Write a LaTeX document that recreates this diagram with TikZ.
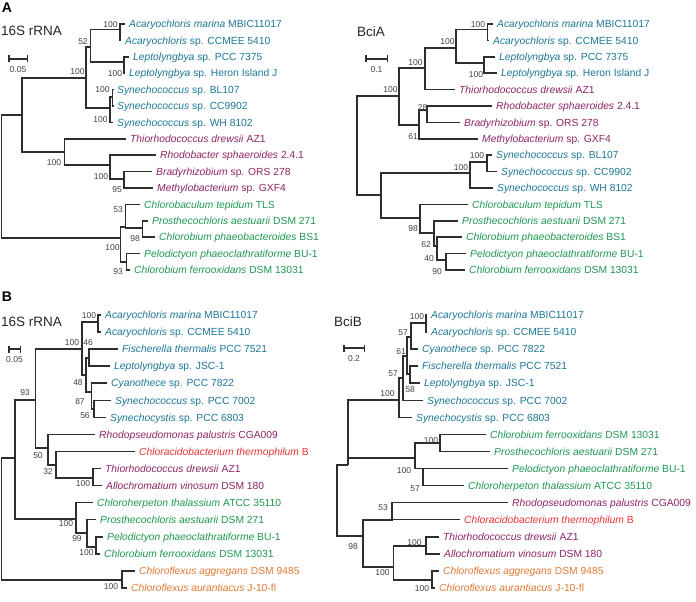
\documentclass[tikz,border=0pt]{standalone}
\usepackage{fontspec}
\setmainfont{Liberation Sans}
\usepackage{xcolor}
\usetikzlibrary{arrows.meta,positioning}
\definecolor{cyano}{RGB}{28,118,150}
\definecolor{purp}{RGB}{140,35,100}
\definecolor{gsb}{RGB}{30,150,80}
\definecolor{acido}{RGB}{230,50,50}
\definecolor{flexus}{RGB}{225,120,50}

\begin{document}
\begin{tikzpicture}[x=1pt,y=-1pt,
    br/.style={draw=black!82,line width=1.5pt},
    tip/.style={anchor=west,inner xsep=4pt,inner ysep=0pt,text height=7.4pt,text depth=0pt,font=\fontsize{10.3}{12}\selectfont},
    bs/.style={inner sep=0pt,text=black!75,font=\fontsize{8.5}{10}\selectfont},
    ttl/.style={anchor=west,inner sep=0pt,text=black!85,font=\fontsize{13.5}{16}\selectfont},
    pnl/.style={inner sep=0pt,font=\fontsize{14}{16}\selectfont\bfseries}]
  \useasboundingbox (0,0) rectangle (696,602);

  \node[pnl] (pA) at (7,8) {A};
  \node[pnl] (pB) at (7,297) {B};
  \node[ttl] (tA1) at (1,31) {16S rRNA};
  \node[ttl] (tA2) at (357,32) {BciA};
  \node[ttl] (tB1) at (1,322) {16S rRNA};
  \node[ttl] (tB2) at (334,322) {BciB};

  % scale bars
  \coordinate (sbA1) at (8,59);   \coordinate (sbA2) at (28,59);
  \coordinate (sbC1) at (365,59); \coordinate (sbC2) at (388,59);
  \coordinate (sbB1) at (8,349);  \coordinate (sbB2) at (21,349);
  \coordinate (sbD1) at (343,348); \coordinate (sbD2) at (365,348);
  \draw[br,{Bar[width=7pt]}-{Bar[width=7pt]}] (sbA1) -- coordinate (sbAm) (sbA2);
  \draw[br,{Bar[width=7pt]}-{Bar[width=7pt]}] (sbC1) -- coordinate (sbCm) (sbC2);
  \draw[br,{Bar[width=7pt]}-{Bar[width=7pt]}] (sbB1) -- coordinate (sbBm) (sbB2);
  \draw[br,{Bar[width=7pt]}-{Bar[width=7pt]}] (sbD1) -- coordinate (sbDm) (sbD2);
  \node[bs,below=7pt of sbAm] (sbAt) {0.05};
  \node[bs,below=7pt of sbCm] (sbCt) {0.1};
  \node[bs,below=7pt of sbBm] (sbBt) {0.05};
  \node[bs,below=7pt of sbDm] (sbDt) {0.2};

  % A, 16S rRNA
  \coordinate (aLroot) at (1.5,176);
  \coordinate (aLtop) at (22,115);
  \coordinate (aLcy) at (86,78);
  \coordinate (aLn52) at (90.5,47);
  \coordinate (aLaca) at (120,29.5);
  \coordinate (aLlep) at (124,62);
  \coordinate (aLsyn) at (110,108);
  \coordinate (aLsyn1) at (112.5,97);
  \coordinate (aLpu) at (64.5,152);
  \coordinate (aLrh) at (110,165);
  \coordinate (aLn95) at (124,179);
  \coordinate (aLgr) at (120.5,238);
  \coordinate (aLn53) at (125.5,227);
  \coordinate (aLn98) at (142.5,228);
  \coordinate (aLn93) at (126.5,262);
  \node[tip,text=cyano] (aL1) at (125,24) {\textit{Acaryochloris marina} MBIC11017};
  \node[tip,text=cyano] (aL2) at (121,40.4) {\textit{Acaryochloris} sp. CCMEE 5410};
  \node[tip,text=cyano] (aL3) at (129,56.8) {\textit{Leptolyngbya} sp. PCC 7375};
  \node[tip,text=cyano] (aL4) at (125,73.2) {\textit{Leptolyngbya} sp. Heron Island J};
  \node[tip,text=cyano] (aL5) at (113,89.6) {\textit{Synechococcus} sp. BL107};
  \node[tip,text=cyano] (aL6) at (113,106) {\textit{Synechococcus} sp. CC9902};
  \node[tip,text=cyano] (aL7) at (113,122.4) {\textit{Synechococcus} sp. WH 8102};
  \node[tip,text=purp] (aL8) at (126,138.8) {\textit{Thiorhodococcus drewsii} AZ1};
  \node[tip,text=purp] (aL9) at (156,155.2) {\textit{Rhodobacter sphaeroides} 2.4.1};
  \node[tip,text=purp] (aL10) at (152,171.6) {\textit{Bradyrhizobium} sp. ORS 278};
  \node[tip,text=purp] (aL11) at (153,188) {\textit{Methylobacterium} sp. GXF4};
  \node[tip,text=gsb] (aL12) at (140,204.4) {\textit{Chlorobaculum tepidum} TLS};
  \node[tip,text=gsb] (aL13) at (148,220.8) {\textit{Prosthecochloris aestuarii} DSM 271};
  \node[tip,text=gsb] (aL14) at (155,237.2) {\textit{Chlorobium phaeobacteroides} BS1};
  \node[tip,text=gsb] (aL15) at (140,253.6) {\textit{Pelodictyon phaeoclathratiforme} BU-1};
  \node[tip,text=gsb] (aL16) at (130,270) {\textit{Chlorobium ferrooxidans} DSM 13031};
  \foreach \p/\c in {aLroot/aLtop,aLroot/aLgr,aLtop/aLcy,aLtop/aLpu,aLcy/aLn52,aLcy/aLsyn,
      aLn52/aLaca,aLn52/aLlep,aLaca/aL1,aLaca/aL2,aLlep/aL3,aLlep/aL4,aLsyn/aLsyn1,aLsyn/aL7,
      aLsyn1/aL5,aLsyn1/aL6,aLpu/aL8,aLpu/aLrh,aLrh/aL9,aLrh/aLn95,aLn95/aL10,aLn95/aL11,
      aLgr/aLn53,aLgr/aLn93,aLn53/aL12,aLn53/aLn98,aLn98/aL13,aLn98/aL14,aLn93/aL15,aLn93/aL16}
    \draw[br] (\p) |- (\c);
  \foreach \x/\y/\t [count=\i] in {110.5/25/100,83/42/52,77.5/72/100,115/74/100,102.5/90/100,
      100.5/120/100,54/163/100,101/177/100,117/190/95,118/210/53,135/239/98,112.5/248/100,118/272/93}
    \node[bs] (aLs\i) at (\x,\y) {\t};

  % A, BciA
  \coordinate (aRroot) at (357,145);
  \coordinate (aRup) at (399,96);
  \coordinate (aRn100b) at (425,68);
  \coordinate (aRn100a) at (456,48);
  \coordinate (aRaca) at (487.5,29.5);
  \coordinate (aRlep) at (484,63);
  \coordinate (aRn61) at (419,125);
  \coordinate (aRn28) at (427,110);
  \coordinate (aRlo) at (381,195);
  \coordinate (aRsyn) at (470,173);
  \coordinate (aRsyn1) at (487,162);
  \coordinate (aRn98) at (420,218);
  \coordinate (aRn62) at (434,233);
  \coordinate (aRn40) at (437,246);
  \coordinate (aRn90) at (446,260);
  \node[tip,text=cyano] (aR1) at (493,24) {\textit{Acaryochloris marina} MBIC11017};
  \node[tip,text=cyano] (aR2) at (489,40.4) {\textit{Acaryochloris} sp. CCMEE 5410};
  \node[tip,text=cyano] (aR3) at (495,56.8) {\textit{Leptolyngbya} sp. PCC 7375};
  \node[tip,text=cyano] (aR4) at (497,73.2) {\textit{Leptolyngbya} sp. Heron Island J};
  \node[tip,text=purp] (aR5) at (455,89.6) {\textit{Thiorhodococcus drewsii} AZ1};
  \node[tip,text=purp] (aR6) at (492,106) {\textit{Rhodobacter sphaeroides} 2.4.1};
  \node[tip,text=purp] (aR7) at (460,122.4) {\textit{Bradyrhizobium} sp. ORS 278};
  \node[tip,text=purp] (aR8) at (478,138.8) {\textit{Methylobacterium} sp. GXF4};
  \node[tip,text=cyano] (aR9) at (492,155.2) {\textit{Synechococcus} sp. BL107};
  \node[tip,text=cyano] (aR10) at (497,171.6) {\textit{Synechococcus} sp. CC9902};
  \node[tip,text=cyano] (aR11) at (493,188) {\textit{Synechococcus} sp. WH 8102};
  \node[tip,text=gsb] (aR12) at (468,204.4) {\textit{Chlorobaculum tepidum} TLS};
  \node[tip,text=gsb] (aR13) at (458,220.8) {\textit{Prosthecochloris aestuarii} DSM 271};
  \node[tip,text=gsb] (aR14) at (462,237.2) {\textit{Chlorobium phaeobacteroides} BS1};
  \node[tip,text=gsb] (aR15) at (466,253.6) {\textit{Pelodictyon phaeoclathratiforme} BU-1};
  \node[tip,text=gsb] (aR16) at (465,270) {\textit{Chlorobium ferrooxidans} DSM 13031};
  \foreach \p/\c in {aRroot/aRup,aRroot/aRlo,aRup/aRn100b,aRup/aRn61,aRn100b/aRn100a,aRn100b/aR5,
      aRn100a/aRaca,aRn100a/aRlep,aRaca/aR1,aRaca/aR2,aRlep/aR3,aRlep/aR4,aRn61/aRn28,aRn61/aR8,
      aRn28/aR6,aRn28/aR7,aRlo/aRsyn,aRlo/aRn98,aRsyn/aRsyn1,aRsyn/aR11,aRsyn1/aR9,aRsyn1/aR10,
      aRn98/aR12,aRn98/aRn62,aRn62/aR13,aRn62/aRn40,aRn40/aR14,aRn40/aRn90,aRn90/aR15,aRn90/aR16}
    \draw[br] (\p) |- (\c);
  \foreach \x/\y/\t [count=\i] in {478/25/100,447.5/42/100,476/75/100,415.5/63/100,390.5/90/100,
      422.5/108/28,413/137/61,477/156/100,461/168/100,413/229/98,426/245/62,429/259/40,437/272/90}
    \node[bs] (aRs\i) at (\x,\y) {\t};

  % B, 16S rRNA
  \coordinate (bLroot) at (1.5,519);
  \coordinate (bLtop) at (15,458);
  \coordinate (bLn93) at (35.5,400);
  \coordinate (bLcy) at (82,349);
  \coordinate (bLaca) at (98,322);
  \coordinate (bLn48) at (86,375);
  \coordinate (bLn46) at (89,358);
  \coordinate (bLn87) at (91.5,392);
  \coordinate (bLn56) at (94,409);
  \coordinate (bLn50) at (48,448);
  \coordinate (bLn32) at (56,465);
  \coordinate (bLth) at (93,478);
  \coordinate (bLgr) at (76,519);
  \coordinate (bLn99) at (87,533);
  \coordinate (bLgf) at (96,547);
  \coordinate (bLfl) at (122,580);
  \node[tip,text=cyano] (bL1) at (101,315) {\textit{Acaryochloris marina} MBIC11017};
  \node[tip,text=cyano] (bL2) at (101,332.1) {\textit{Acaryochloris} sp. CCMEE 5410};
  \node[tip,text=cyano] (bL3) at (118,349.1) {\textit{Fischerella thermalis} PCC 7521};
  \node[tip,text=cyano] (bL4) at (110,366.2) {\textit{Leptolyngbya} sp. JSC-1};
  \node[tip,text=cyano] (bL5) at (107,383.2) {\textit{Cyanothece} sp. PCC 7822};
  \node[tip,text=cyano] (bL6) at (111,400.3) {\textit{Synechococcus} sp. PCC 7002};
  \node[tip,text=cyano] (bL7) at (106,417.4) {\textit{Synechocystis} sp. PCC 6803};
  \node[tip,text=purp] (bL8) at (95,434.4) {\textit{Rhodopseudomonas palustris} CGA009};
  \node[tip,text=acido] (bL9) at (135,451.5) {\textit{Chloracidobacterium thermophilum} B};
  \node[tip,text=purp] (bL10) at (101,468.5) {\textit{Thiorhodococcus drewsii} AZ1};
  \node[tip,text=purp] (bL11) at (102,485.6) {\textit{Allochromatium vinosum} DSM 180};
  \node[tip,text=gsb] (bL12) at (93,502.7) {\textit{Chloroherpeton thalassium} ATCC 35110};
  \node[tip,text=gsb] (bL13) at (96,519.7) {\textit{Prosthecochloris aestuarii} DSM 271};
  \node[tip,text=gsb] (bL14) at (103,536.8) {\textit{Pelodictyon phaeoclathratiforme} BU-1};
  \node[tip,text=gsb] (bL15) at (100,553.8) {\textit{Chlorobium ferrooxidans} DSM 13031};
  \node[tip,text=flexus] (bL16) at (135,570.9) {\textit{Chloroflexus aggregans} DSM 9485};
  \node[tip,text=flexus] (bL17) at (127,588) {\textit{Chloroflexus aurantiacus} J-10-fl};
  \foreach \p/\c in {bLroot/bLtop,bLroot/bLfl,bLtop/bLn93,bLtop/bLgr,bLn93/bLcy,bLn93/bLn50,
      bLcy/bLaca,bLcy/bLn48,bLaca/bL1,bLaca/bL2,bLn48/bLn46,bLn48/bLn87,bLn46/bL3,bLn46/bL4,
      bLn87/bL5,bLn87/bLn56,bLn56/bL6,bLn56/bL7,bLn50/bL8,bLn50/bLn32,bLn32/bL9,bLn32/bLth,
      bLth/bL10,bLth/bL11,bLgr/bL12,bLgr/bLn99,bLn99/bL13,bLn99/bLgf,bLgf/bL14,bLgf/bL15,
      bLfl/bL16,bLfl/bL17}
    \draw[br] (\p) |- (\c);
  \foreach \x/\y/\t [count=\i] in {89/316/100,72/343/100,88/343/46,78/383/48,80/402/87,85/416/56,
      25/393/93,38/456/50,48/472/32,83/484/100,66/524/100,77/539/99,86.5/553/100,111/587/100}
    \node[bs] (bLs\i) at (\x,\y) {\t};

  % B, BciB
  \coordinate (bRroot) at (337,500);
  \coordinate (bRtop) at (348,465);
  \coordinate (bRcy) at (399,400);
  \coordinate (bRn57b) at (403,378);
  \coordinate (bRn61) at (407,356);
  \coordinate (bRn57a) at (411,337);
  \coordinate (bRaca) at (426,323);
  \coordinate (bRn58) at (410,374);
  \coordinate (bRgr) at (415,458);
  \coordinate (bRgf) at (440,443);
  \coordinate (bRn57) at (423,468.5);
  \coordinate (bRn98) at (363,536);
  \coordinate (bRn53) at (392,520);
  \coordinate (bRlo) at (393.5,567);
  \coordinate (bRth) at (426,546);
  \coordinate (bRfl) at (432,580);
  \node[tip,text=cyano] (bR1) at (427,315) {\textit{Acaryochloris marina} MBIC11017};
  \node[tip,text=cyano] (bR2) at (427,332.1) {\textit{Acaryochloris} sp. CCMEE 5410};
  \node[tip,text=cyano] (bR3) at (418,349.1) {\textit{Cyanothece} sp. PCC 7822};
  \node[tip,text=cyano] (bR4) at (418,366.2) {\textit{Fischerella thermalis} PCC 7521};
  \node[tip,text=cyano] (bR5) at (420,383.2) {\textit{Leptolyngbya} sp. JSC-1};
  \node[tip,text=cyano] (bR6) at (423,400.3) {\textit{Synechococcus} sp. PCC 7002};
  \node[tip,text=cyano] (bR7) at (412,417.4) {\textit{Synechocystis} sp. PCC 6803};
  \node[tip,text=gsb] (bR8) at (486,434.4) {\textit{Chlorobium ferrooxidans} DSM 13031};
  \node[tip,text=gsb] (bR9) at (490,451.5) {\textit{Prosthecochloris aestuarii} DSM 271};
  \node[tip,text=gsb] (bR10) at (508,468.5) {\textit{Pelodictyon phaeoclathratiforme} BU-1};
  \node[tip,text=gsb] (bR11) at (464,485.6) {\textit{Chloroherpeton thalassium} ATCC 35110};
  \node[tip,text=purp] (bR12) at (508,502.7) {\textit{Rhodopseudomonas palustris} CGA009};
  \node[tip,text=acido] (bR13) at (460,519.7) {\textit{Chloracidobacterium thermophilum} B};
  \node[tip,text=purp] (bR14) at (439,536.8) {\textit{Thiorhodococcus drewsii} AZ1};
  \node[tip,text=purp] (bR15) at (440,553.8) {\textit{Allochromatium vinosum} DSM 180};
  \node[tip,text=flexus] (bR16) at (439,570.9) {\textit{Chloroflexus aggregans} DSM 9485};
  \node[tip,text=flexus] (bR17) at (435,588) {\textit{Chloroflexus aurantiacus} J-10-fl};
  \foreach \p/\c in {bRroot/bRtop,bRroot/bRn98,bRtop/bRcy,bRtop/bRgr,bRcy/bRn57b,bRcy/bR7,
      bRn57b/bRn61,bRn57b/bR6,bRn61/bRn57a,bRn61/bRn58,bRn57a/bRaca,bRn57a/bR3,bRaca/bR1,bRaca/bR2,
      bRn58/bR4,bRn58/bR5,bRgr/bRgf,bRgr/bRn57,bRgf/bR8,bRgf/bR9,bRn57/bR10,bRn57/bR11,
      bRn98/bRn53,bRn98/bRlo,bRn53/bR12,bRn53/bR13,bRlo/bRth,bRlo/bRfl,bRth/bR14,bRth/bR15,
      bRfl/bR16,bRfl/bR17}
    \draw[br] (\p) |- (\c);
  \foreach \x/\y/\t [count=\i] in {417/317/100,403/333/57,401/352/61,393/374/57,410/390/58,
      387.5/394/100,431/441/100,404/471/100,415/489/57,383/508/53,353/547/98,414.5/543/100,
      382.5/573/100,422/589/100}
    \node[bs] (bRs\i) at (\x,\y) {\t};
\end{tikzpicture}
\end{document}
